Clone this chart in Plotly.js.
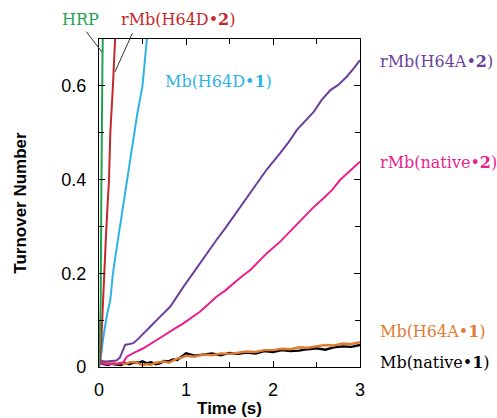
<!DOCTYPE html>
<html>
<head>
<meta charset="utf-8">
<script src="https://cdn.plot.ly/plotly-3.0.1.min.js"></script>
<style>html,body{margin:0;padding:0;background:#fff;}#chart{width:497px;height:418px;}</style>
</head>
<body>
<div id="chart"></div>
<script>
// ---- data ----
var hrpT = [0, 0.005, 0.012, 0.02, 0.026, 0.03, 0.04, 0.048];
var hrpY = [0, 0.03, 0.08, 0.14, 0.35, 0.57, 0.66, 0.75];

var h64d2T = [0, 0.01, 0.025, 0.04, 0.05, 0.06, 0.08, 0.1, 0.115, 0.13, 0.146, 0.16, 0.185, 0.2];
var h64d2Y = [0, 0.01, 0.05, 0.12, 0.15, 0.2, 0.28, 0.35, 0.4, 0.5, 0.57, 0.6, 0.7, 0.75];

var h64d1T = [0, 0.02, 0.05, 0.09, 0.13, 0.16, 0.2, 0.24, 0.28, 0.32, 0.36, 0.4, 0.44, 0.47, 0.5, 0.55, 0.58];
var h64d1Y = [0, 0.02, 0.064, 0.11, 0.143, 0.2, 0.25, 0.3, 0.35, 0.4, 0.45, 0.5, 0.54, 0.57, 0.6, 0.7, 0.74];

var h64a2T = [0, 0.03, 0.08, 0.14, 0.2, 0.24, 0.27, 0.3, 0.35, 0.395, 0.45, 0.51, 0.6, 0.7, 0.82, 0.97, 1.06, 1.16, 1.25, 1.35, 1.45, 1.545, 1.64, 1.74, 1.85, 1.93, 2.08, 2.18, 2.275, 2.37, 2.47, 2.56, 2.66, 2.75, 2.85, 2.93, 3.0];
var h64a2Y = [0.022, 0.012, 0.012, 0.013, 0.014, 0.02, 0.035, 0.047, 0.049, 0.051, 0.06, 0.072, 0.088, 0.107, 0.129, 0.171, 0.195, 0.221, 0.244, 0.271, 0.296, 0.321, 0.345, 0.371, 0.399, 0.422, 0.456, 0.48, 0.506, 0.525, 0.545, 0.57, 0.591, 0.602, 0.62, 0.638, 0.655];

var native2T = [0, 0.03, 0.08, 0.15, 0.22, 0.28, 0.32, 0.4, 0.51, 0.65, 0.78, 0.87, 0.97, 1.06, 1.16, 1.25, 1.35, 1.45, 1.545, 1.64, 1.74, 1.83, 1.93, 2.08, 2.2, 2.33, 2.45, 2.58, 2.68, 2.77, 2.88, 3.0];
var native2Y = [0.018, 0.008, 0.006, 0.006, 0.007, 0.01, 0.022, 0.03, 0.04, 0.056, 0.072, 0.082, 0.093, 0.105, 0.118, 0.133, 0.15, 0.163, 0.179, 0.193, 0.207, 0.224, 0.243, 0.267, 0.29, 0.315, 0.338, 0.36, 0.378, 0.399, 0.418, 0.438];

var h64a1T = [0, 0.05, 0.1, 0.15, 0.2, 0.25, 0.3, 0.35, 0.4, 0.45, 0.5, 0.55, 0.6, 0.65, 0.7, 0.75, 0.8, 0.85, 0.9, 0.95, 1.0, 1.1, 1.2, 1.3, 1.4, 1.5, 1.6, 1.7, 1.8, 1.9, 2.0, 2.1, 2.2, 2.3, 2.4, 2.5, 2.6, 2.7, 2.8, 2.9, 3.0];
var h64a1Y = [0.015, 0.012, 0.009, 0.01, 0.007, 0.009, 0.006, 0.01, 0.011, 0.008, 0.004, 0.006, 0.005, 0.009, 0.01, 0.012, 0.009, 0.014, 0.018, 0.02, 0.024, 0.022, 0.027, 0.025, 0.029, 0.028, 0.031, 0.033, 0.032, 0.036, 0.036, 0.039, 0.038, 0.042, 0.041, 0.044, 0.047, 0.046, 0.05, 0.049, 0.053];

var native1T = [0, 0.05, 0.1, 0.15, 0.2, 0.25, 0.3, 0.35, 0.4, 0.45, 0.5, 0.55, 0.6, 0.65, 0.7, 0.75, 0.8, 0.85, 0.9, 0.95, 1.0, 1.1, 1.2, 1.3, 1.4, 1.5, 1.6, 1.7, 1.8, 1.9, 2.0, 2.1, 2.2, 2.3, 2.4, 2.5, 2.6, 2.7, 2.8, 2.9, 3.0];
var native1Y = [0.01, 0.006, 0.004, 0.007, 0.005, 0.004, 0.008, 0.006, 0.01, 0.009, 0.012, 0.008, 0.01, 0.006, 0.008, 0.013, 0.012, 0.016, 0.015, 0.022, 0.029, 0.024, 0.026, 0.029, 0.025, 0.03, 0.028, 0.031, 0.029, 0.034, 0.032, 0.036, 0.034, 0.035, 0.038, 0.04, 0.037, 0.042, 0.044, 0.043, 0.047];

var xTickVals = [0, 1, 2, 3];
var xTickText = ['0', '1', '2', '3'];
var yTickVals = [0, 0.2, 0.4, 0.6];
var yTickText = ['0', '0.2', '0.4', '0.6'];

var seriesNames = ['HRP', 'rMb(H64D•2)', 'Mb(H64D•1)', 'rMb(H64A•2)', 'rMb(native•2)', 'Mb(H64A•1)', 'Mb(native•1)'];
var seriesColors = ['#22a34f', '#c4282b', '#2cb3e6', '#6a3f9e', '#ec1e8e', '#e07b32', '#000000'];

// ---- traces ----
function line(t, y, i, w) {
  return {x: t, y: y, type: 'scatter', mode: 'lines', name: seriesNames[i],
          line: {color: seriesColors[i], width: w}, showlegend: false, hoverinfo: 'skip'};
}
var data = [
  line(native1T, native1Y, 6, 2.4),
  line(h64a1T, h64a1Y, 5, 2.4),
  line(native2T, native2Y, 4, 2),
  line(h64a2T, h64a2Y, 3, 2),
  line(h64d1T, h64d1Y, 2, 2),
  line(h64d2T, h64d2Y, 1, 2),
  line(hrpT, hrpY, 0, 2)
];

var serif = 'DejaVu Serif, Liberation Serif, serif';
function lab(text, x, y, color, xanchor) {
  return {text: text, xref: 'paper', yref: 'paper', x: x, y: y, xanchor: xanchor || 'center',
          yanchor: 'middle', showarrow: false, font: {family: serif, size: 16, color: color}};
}
function pointer(x, y, ax, ay) {
  return {text: '', xref: 'x', yref: 'y', x: x, y: y, ax: ax, ay: ay, showarrow: true,
          arrowhead: 0, arrowwidth: 1, arrowcolor: '#333333'};
}

var layout = {
  width: 497, height: 418,
  margin: {l: 99, r: 137, t: 39, b: 51},
  paper_bgcolor: '#ffffff', plot_bgcolor: '#ffffff',
  font: {family: 'Liberation Sans, Arial, sans-serif', color: '#000'},
  xaxis: {
    range: [0, 3], tickvals: xTickVals, ticktext: xTickText,
    ticks: 'inside', ticklen: 6, tickwidth: 1, tickcolor: '#000',
    minor: {dtick: 0.5, ticks: 'inside', ticklen: 5, tickwidth: 1, tickcolor: '#000'},
    mirror: 'allticks', showline: true, linecolor: '#000', linewidth: 1.2,
    showgrid: false, zeroline: false, ticklabelstandoff: 6,
    tickfont: {size: 18, color: '#000'},
    title: {text: '<b>Time (s)</b>', font: {size: 17, color: '#000'}, standoff: 6}
  },
  yaxis: {
    range: [0, 0.7], tickvals: yTickVals, ticktext: yTickText,
    ticks: 'inside', ticklen: 6, tickwidth: 1, tickcolor: '#000',
    minor: {dtick: 0.1, ticks: 'inside', ticklen: 5, tickwidth: 1, tickcolor: '#000'},
    mirror: 'allticks', showline: true, linecolor: '#000', linewidth: 1.2,
    showgrid: false, zeroline: false, ticklabelstandoff: 8,
    tickfont: {size: 18, color: '#000'},
    title: {text: '<b>Turnover Number</b>', font: {size: 17, color: '#000'}, standoff: 30}
  },
  annotations: [
    lab('HRP', -0.069, 1.058, seriesColors[0]),
    lab('rMb(H64D•<b>2</b>)', 0.301, 1.058, seriesColors[1]),
    lab('Mb(H64D•<b>1</b>)', 0.458, 0.869, seriesColors[2]),
    lab('rMb(H64A•<b>2</b>)', 1.069, 0.930, seriesColors[3], 'left'),
    lab('rMb(native•<b>2</b>)', 1.069, 0.625, seriesColors[4], 'left'),
    lab('Mb(H64A•<b>1</b>)', 1.069, 0.107, seriesColors[5], 'left'),
    lab('Mb(native•<b>1</b>)', 1.069, 0.015, seriesColors[6], 'left'),
    pointer(0.035, 0.672, -17, -22),
    pointer(0.184, 0.63, 18, -40)
  ]
};

Plotly.newPlot('chart', data, layout, {displayModeBar: false, staticPlot: true});
</script>
</body>
</html>
